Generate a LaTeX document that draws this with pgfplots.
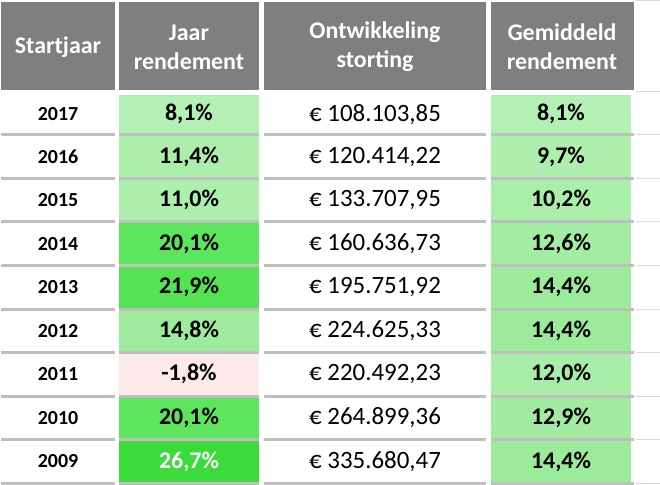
\documentclass[border=0pt]{standalone}
\usepackage{fontspec}
\setmainfont{Carlito}
\usepackage{pgfplots}
\pgfplotsset{compat=1.18}

\definecolor{hdrgray}{HTML}{7F7F7F}
\definecolor{sepgray}{HTML}{BFBFBF}
\definecolor{gridgray}{HTML}{D9D9D9}
% cell colours, column "Jaar rendement"
\definecolor{ja}{HTML}{B3F0B3}
\definecolor{jb}{HTML}{ACEEAC}
\definecolor{jc}{HTML}{ADEFAD}
\definecolor{jd}{HTML}{5DE55D}
\definecolor{je}{HTML}{55E355}
\definecolor{jf}{HTML}{9DEB9D}
\definecolor{jg}{HTML}{FCEAEA}
\definecolor{jh}{HTML}{5DE55D}
\definecolor{ji}{HTML}{3ADB3A}
% cell colours, column "Gemiddeld rendement"
\definecolor{ga}{HTML}{B3F0B3}
\definecolor{gb}{HTML}{AEEFAE}
\definecolor{gc}{HTML}{A9EEA9}
\definecolor{gd}{HTML}{A2EDA2}
\definecolor{ge}{HTML}{9BEB9B}
\definecolor{gf}{HTML}{9BEB9B}
\definecolor{gg}{HTML}{A8EEA8}
\definecolor{gh}{HTML}{A1ECA1}
\definecolor{gi}{HTML}{9BEB9B}

\tikzset{
  hdr/.style={font=\fontsize{24}{29}\selectfont\bfseries, text=white, align=center, inner sep=0pt},
  yr/.style={font=\fontsize{20}{24}\selectfont\bfseries, inner sep=0pt},
  val/.style={font=\fontsize{24}{29}\selectfont\bfseries, inner sep=0pt},
  eur/.style={font=\fontsize{25}{29}\selectfont, inner sep=0pt},
}

% one data row: top, bottom, centre, year, jaar, jaar fill, storting, gem, gem fill
\newcommand\datarow[9]{%
  \addplot[fill=#6, draw=none] coordinates {(119,#1) (259,#1) (259,#2) (119,#2)};
  \addplot[fill=#9, draw=none] coordinates {(491,#1) (631,#1) (631,#2) (491,#2)};
  \node[yr]  at (axis cs:58,#3)  {#4};
  \node[val] at (axis cs:189,#3) {#5};
  \node[eur] at (axis cs:375,#3) {€ #7};
  \node[val] at (axis cs:561,#3) {#8};
}
% separator under a row, in the four columns, plus the thin grid line on the right
\newcommand\sepline[1]{%
  \addplot[draw=sepgray, line width=3bp, unbounded coords=jump] coordinates
    {(1,#1) (115,#1) (117,nan) (119,#1) (259,#1) (261,nan)
     (264,#1) (486,#1) (488,nan) (491,#1) (634,#1)};
  \addplot[draw=gridgray, line width=1bp] coordinates {(636,#1) (660,#1)};
}

\begin{document}
\begin{tikzpicture}
\useasboundingbox (0,0) rectangle (660bp,485bp);
\begin{axis}[
  scale only axis, width=660bp, height=485bp,
  xmin=0, xmax=660, ymin=0, ymax=485, y dir=reverse,
  hide axis, clip=false,
]
% header cells
\addplot[fill=hdrgray, draw=none] coordinates {(1,2) (115,2) (115,90) (1,90)};
\addplot[fill=hdrgray, draw=none] coordinates {(119,2) (259,2) (259,90) (119,90)};
\addplot[fill=hdrgray, draw=none] coordinates {(264,2) (486,2) (486,90) (264,90)};
\addplot[fill=hdrgray, draw=none] coordinates {(491,2) (634,2) (634,90) (491,90)};
\addplot[draw=gridgray, line width=1bp] coordinates {(636,1) (660,1)};
\addplot[draw=gridgray, line width=1bp] coordinates {(636,92) (660,92)};
\node[hdr] at (axis cs:58,47) {Startjaar};
\node[hdr] at (axis cs:189,47) {Jaar\\rendement};
\node[hdr] at (axis cs:375,47) {Ontwikkeling\\storting};
\node[hdr] at (axis cs:562,47) {Gemiddeld\\rendement};

% data rows
\datarow{95}{133.3}{114.2}{2017}{8,1\%}{ja}{108.103,85}{8,1\%}{ga}
\datarow{136.3}{176.85}{156.6}{2016}{11,4\%}{jb}{120.414,22}{9,7\%}{gb}
\datarow{179.85}{220.4}{200.1}{2015}{11,0\%}{jc}{133.707,95}{10,2\%}{gc}
\datarow{223.4}{263.95}{243.7}{2014}{20,1\%}{jd}{160.636,73}{12,6\%}{gd}
\datarow{266.95}{307.5}{287.2}{2013}{21,9\%}{je}{195.751,92}{14,4\%}{ge}
\datarow{310.5}{351.05}{330.8}{2012}{14,8\%}{jf}{224.625,33}{14,4\%}{gf}
\datarow{354.05}{394.6}{374.3}{2011}{-1,8\%}{jg}{220.492,23}{12,0\%}{gg}
\datarow{397.6}{438.15}{417.9}{2010}{20,1\%}{jh}{264.899,36}{12,9\%}{gh}
\datarow{441.15}{481.7}{461.4}{2009}{\textcolor{white}{26,7\%}}{ji}{335.680,47}{14,4\%}{gi}

% separators
\sepline{134.8}
\sepline{178.35}
\sepline{221.9}
\sepline{265.45}
\sepline{309}
\sepline{352.55}
\sepline{396.1}
\sepline{439.65}
\sepline{483.2}
\end{axis}
\end{tikzpicture}
\end{document}
